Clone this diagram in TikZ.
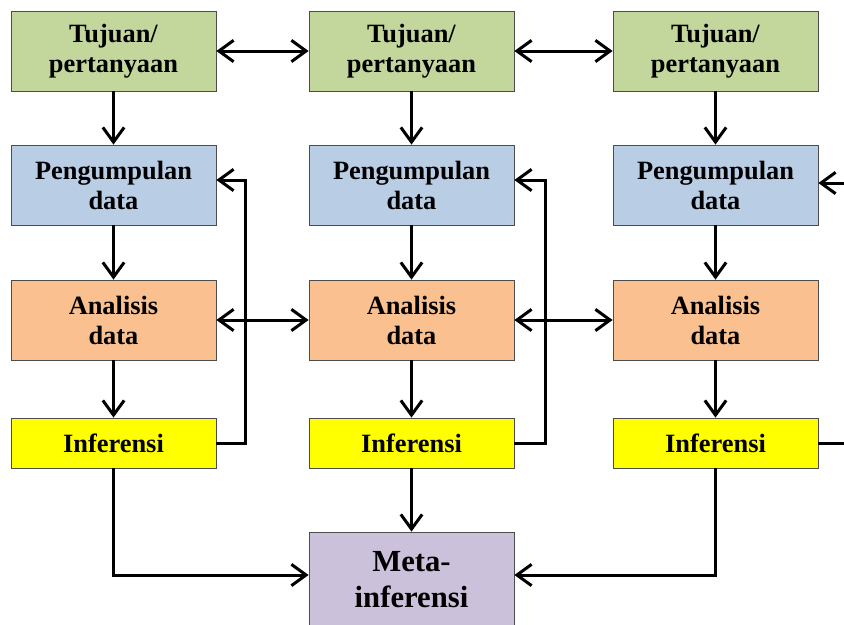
\documentclass[tikz,border=0pt]{standalone}
\usepackage{fontspec}
\setmainfont{Liberation Serif}
\usetikzlibrary{arrows.meta}

\definecolor{tujuancol}{RGB}{195,214,155}
\definecolor{kumpulcol}{RGB}{185,205,229}
\definecolor{analisiscol}{RGB}{250,192,144}
\definecolor{metacol}{RGB}{204,193,218}
\definecolor{infcol}{RGB}{255,255,0}

\tikzset{
  box/.style={draw=black!70, line width=0.6pt, minimum width=153.75pt,
    minimum height=60pt, inner sep=0pt, align=center,
    font=\fontsize{19.8}{22.5}\selectfont\bfseries},
  infbox/.style={box, fill=infcol, minimum height=37.5pt},
  arr/.style={line width=2.25pt, -{Straight Barb[length=11pt,width=16pt]}},
  darr/.style={arr, {Straight Barb[length=11pt,width=16pt]}-{Straight Barb[length=11pt,width=16pt]}},
}

\begin{document}
\begin{tikzpicture}[x=0.75pt,y=-0.75pt]
    \useasboundingbox (0,0) rectangle (844,625);
    \clip (0,0) rectangle (844,625);
    % three columns of boxes
    \foreach \i/\x in {1/113.5,2/411.5,3/715.5} {
      \node[box, fill=tujuancol] (tuj\i) at (\x,51) {Tujuan/\\pertanyaan};
      \node[box, fill=kumpulcol] (pen\i) at (\x,185) {Pengumpulan\\data};
      \node[box, fill=analisiscol] (ana\i) at (\x,320) {Analisis\\data};
      \node[infbox] (inf\i) at (\x,443) {Inferensi};
      \draw[arr] (tuj\i) -- (pen\i);
      \draw[arr] (pen\i) -- (ana\i);
      \draw[arr] (ana\i) -- (inf\i);
    }
    \node[box, fill=metacol, minimum height=72pt,
      font=\fontsize{23}{27}\selectfont\bfseries] (meta) at (411.5,580) {Meta-\\inferensi};

    % links between columns
    \draw[darr] (tuj1) -- (tuj2);
    \draw[darr] (tuj2) -- (tuj3);
    \draw[darr] (ana1) -- (ana2);
    \draw[darr] (ana2) -- (ana3);

    % feedback from inference back to data collection
    \draw[arr] (inf1.east) -- ++(29,0) |- ([yshift=3.75pt]pen1.east);
    \draw[arr] (inf2.east) -- ++(31,0) |- ([yshift=3.75pt]pen2.east);
    \coordinate (out3) at (844,443);
    \coordinate (in3) at (844,183);
    \draw[line width=2.25pt] (inf3.east) -- (out3);
    \draw[arr] (in3) -- (pen3.east |- in3);

    % into meta-inference
    \draw[arr] (inf2) -- (meta);
    \draw[arr] (inf1.south) |- ([yshift=3.75pt]meta.west);
    \draw[arr] (inf3.south) |- ([yshift=3.75pt]meta.east);
\end{tikzpicture}
\end{document}
